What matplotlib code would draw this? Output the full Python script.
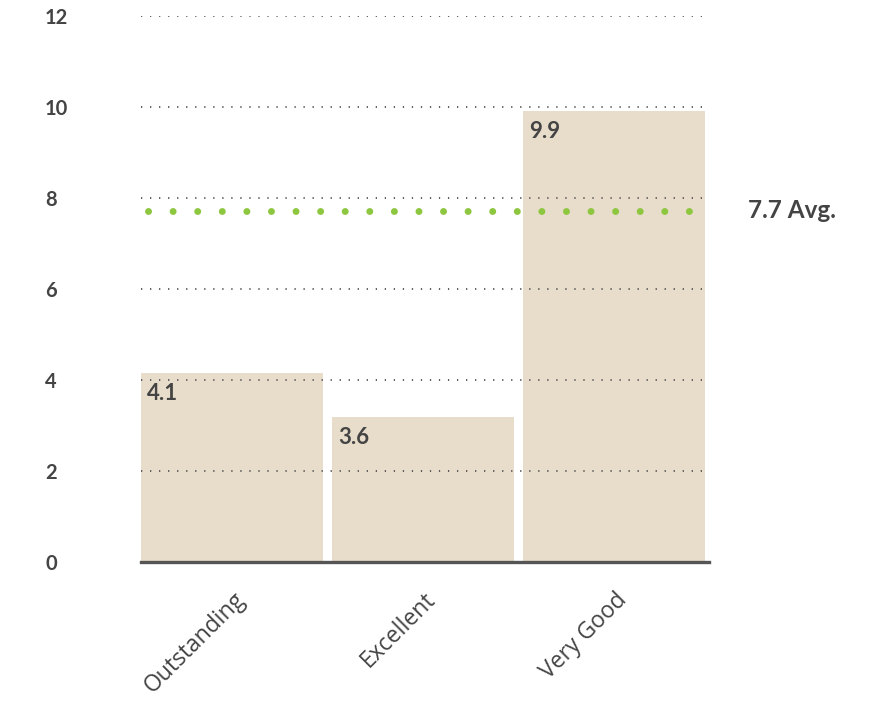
import matplotlib
matplotlib.use("Agg")
import matplotlib.pyplot as plt
import matplotlib.transforms as mtransforms

categories = ["Outstanding", "Excellent", "Very Good"]
values = [4.15, 3.17, 9.9]
value_labels = ["4.1", "3.6", "9.9"]
average = 7.72
average_label = "7.7 Avg."
yticks = [0, 2, 4, 6, 8, 10, 12]

plt.rcParams['font.family'] = ['Lato', 'DejaVu Sans']

fig = plt.figure(figsize=(8.92, 7.04), dpi=100)
ax = fig.add_axes([141/892, 142.5/704, 568/892, 545.5/704])

text_color = "#444444"
bar_color = "#E8DDCB"

x = list(range(len(categories)))
width = 0.953
ax.bar(x, values, width=width, color=bar_color, zorder=1)
ax.set_xlim(-0.476, 2.5)
ax.set_ylim(0, 12)

# gridlines (dotted, over bars)
for t in yticks[1:]:
    ax.axhline(t, color="#505050", lw=1.3, ls=(0, (0.7, 4.3)), zorder=2)

# baseline
ax.axhline(0, color="#555555", lw=2.4, zorder=3, clip_on=False)

# average line
ax.axhline(average, color="#8DC63F", lw=5.0, ls=(2.53, (0.01, 3.53)),
           dash_capstyle="round", zorder=4)
ax.annotate(average_label, xy=(1.0, average), xycoords=("axes fraction", "data"),
            xytext=(39, 0), textcoords="offset pixels", ha="left", va="center",
            fontsize=17.5, fontweight="bold", color=text_color)

# value labels
for xi, v, lab in zip(x, values, value_labels):
    ax.annotate(lab, xy=(xi - width/2, v), xytext=(6, -10), textcoords="offset pixels",
                ha="left", va="top", fontsize=16, fontweight="bold", color=text_color, zorder=5)

for s in ax.spines.values():
    s.set_visible(False)

ax.set_yticks(yticks)
ax.set_yticklabels([str(t) for t in yticks], fontsize=14.5, fontweight="bold", color=text_color)
ax.tick_params(axis="y", length=0, pad=69)
for lab in ax.get_yticklabels():
    lab.set_horizontalalignment("left")

ax.set_xticks(x)
ax.set_xticklabels(categories, rotation=45, ha="right", va="top", rotation_mode="anchor",
                   fontsize=16.5, color=text_color, family=["Open Sans", "DejaVu Sans"])
ax.tick_params(axis="x", length=0, pad=19)
offset = mtransforms.ScaledTranslation(1/100, 0, fig.dpi_scale_trans)
for lab in ax.get_xticklabels():
    lab.set_transform(lab.get_transform() + offset)

fig.savefig("out.png", dpi=100)
